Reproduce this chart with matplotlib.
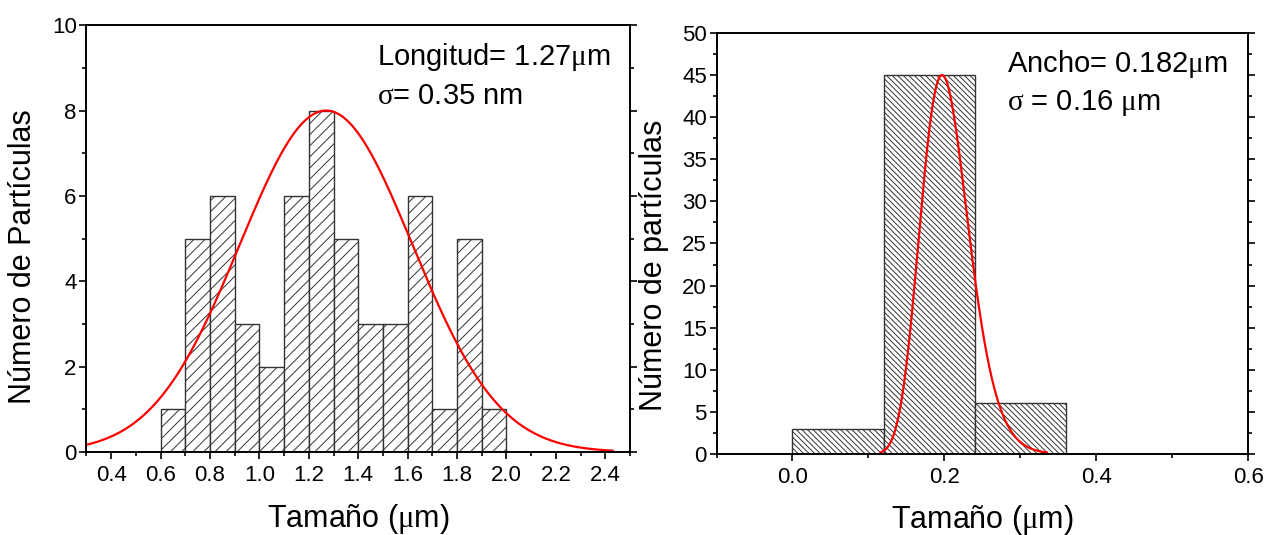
# %% Section 0: Import packages

import numpy as np
import matplotlib
matplotlib.use("Agg")
import matplotlib.pyplot as plt
from matplotlib.ticker import MultipleLocator

plt.rcParams["font.family"] = ["Liberation Sans", "DejaVu Sans"]
plt.rcParams["hatch.linewidth"] = 0.7
plt.rcParams["hatch.color"] = "black"
# Greek letters in a serif face, like the Symbol font of the original
plt.rcParams["mathtext.fontset"] = "custom"
plt.rcParams["mathtext.rm"] = "Liberation Serif"
plt.rcParams["mathtext.it"] = "Liberation Serif"


# %% Section 1: Data

# Length histogram (left panel), bins of 0.1 um
length_bins = [0.6, 0.7, 0.8, 0.9, 1.0, 1.1, 1.2, 1.3, 1.4, 1.5, 1.6, 1.7, 1.8, 1.9]
length_counts = [1, 5, 6, 3, 2, 6, 8, 5, 3, 3, 6, 1, 5, 1]
length_width = 0.1

# Gaussian fit of the length
length_amp = 8.0
length_center = 1.27
length_sigma = 0.35
length_fit_range = (0.3, 2.43)

# Width histogram (right panel), bins of 0.12 um
width_bins = [0.0, 0.12, 0.24]
width_counts = [3, 45, 6]
width_width = 0.12

# Log-normal fit of the width
width_amp = 45.0
width_mode = 0.197
width_sigma = 0.16
width_fit_range = (0.116, 0.335)

MU = r"$\mathrm{\mu}$"
SIGMA = r"$\mathrm{\sigma}$"
length_text = ["Longitud= 1.27" + MU + "m", SIGMA + "= 0.35 nm"]
width_text = ["Ancho= 0.182" + MU + "m", SIGMA + " = 0.16 " + MU + "m"]
xlabel_text = "Tama\u00f1o (" + MU + "m)"


# %% Section 2: Fit models

def gauss(x, amplitude, center, sigma):
    return amplitude * np.exp(-((x - center) ** 2) / (2 * sigma**2))


def lognorm(x, amplitude, mode, sigma):
    return amplitude * np.exp(-(np.log(x / mode) ** 2) / (2 * sigma**2))


x_len = np.linspace(length_fit_range[0], length_fit_range[1], 400)
y_len = gauss(x_len, length_amp, length_center, length_sigma)

x_wid = np.linspace(width_fit_range[0], width_fit_range[1], 400)
y_wid = lognorm(x_wid, width_amp, width_mode, width_sigma)


# %% Section 3: Plot

fig = plt.figure(figsize=(12.64, 5.35), dpi=100)
ax1 = fig.add_axes([0.0684, 0.155, 0.430, 0.798])
ax2 = fig.add_axes([0.5669, 0.1514, 0.4205, 0.787])


def style_axes(ax):
    for s in ax.spines.values():
        s.set_linewidth(1.4)
    ax.tick_params(axis="both", which="both", direction="out", labelsize=16,
                   width=1.2, top=False, right=True, labelright=False)
    ax.tick_params(axis="both", which="major", length=5)
    ax.tick_params(axis="both", which="minor", length=3)
    ax.tick_params(axis="y", pad=2)
    ax.tick_params(axis="x", pad=4)


def note(ax, x, y, s):
    ax.text(x, y, s, transform=ax.transAxes, fontsize=21,
            va="center", ha="left")


# Left: length
ax1.bar(length_bins, length_counts, width=length_width, align="edge",
        facecolor="white", edgecolor="#333333", linewidth=1.0, hatch="///")
ax1.plot(x_len, y_len, color="red", linewidth=1.6)
ax1.set_xlim(0.3, 2.5)
ax1.set_ylim(0, 10)
ax1.set_xticks(np.arange(0.4, 2.41, 0.2))
ax1.set_xticklabels([f"{v:.1f}" for v in np.arange(0.4, 2.41, 0.2)])
ax1.xaxis.set_minor_locator(MultipleLocator(0.1))
ax1.yaxis.set_major_locator(MultipleLocator(2))
ax1.yaxis.set_minor_locator(MultipleLocator(1))
style_axes(ax1)
ax1.set_xlabel(xlabel_text, fontsize=22, va="center")
ax1.set_ylabel("N\u00famero de Part\u00edculas", fontsize=22, va="center")
ax1.xaxis.set_label_coords(0.5, -0.157)
ax1.yaxis.set_label_coords(-0.116, 0.457)
note(ax1, 0.535, 0.925, length_text[0])
note(ax1, 0.535, 0.833, length_text[1])

# Right: width
ax2.bar(width_bins, width_counts, width=width_width, align="edge",
        facecolor="white", edgecolor="#333333", linewidth=1.0, hatch="\\" * 6)
ax2.plot(x_wid, y_wid, color="red", linewidth=1.6)
ax2.set_xlim(-0.1, 0.6)
ax2.set_ylim(0, 50)
ax2.set_xticks([0.0, 0.2, 0.4, 0.6])
ax2.set_xticklabels(["0.0", "0.2", "0.4", "0.6"])
ax2.xaxis.set_minor_locator(MultipleLocator(0.1))
ax2.yaxis.set_major_locator(MultipleLocator(5))
ax2.yaxis.set_minor_locator(MultipleLocator(2.5))
style_axes(ax2)
ax2.set_xlabel(xlabel_text, fontsize=22, va="center")
ax2.set_ylabel("N\u00famero de part\u00edculas", fontsize=22, va="center")
ax2.xaxis.set_label_coords(0.5, -0.157)
ax2.yaxis.set_label_coords(-0.1176, 0.447)
note(ax2, 0.546, 0.926, width_text[0])
note(ax2, 0.546, 0.833, width_text[1])

fig.savefig("out.png", dpi=100)
